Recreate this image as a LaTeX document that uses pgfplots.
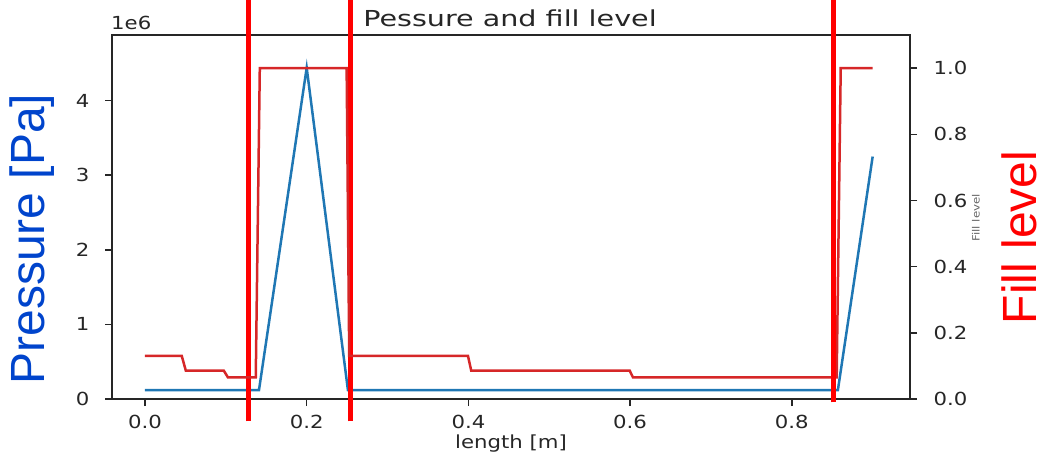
\documentclass[border=0pt]{standalone}
\usepackage{fontspec}
\setmainfont{DejaVu Sans}[FakeStretch=1.18]
\newfontfamily\titlefont{DejaVu Sans}[FakeStretch=1.3]
\newfontfamily\arialfont{Liberation Sans}
\usepackage{graphicx}
\usepackage{pgfplots}
\pgfplotsset{compat=1.18}
\definecolor{mblue}{HTML}{1F77B4}
\definecolor{mred}{HTML}{D62728}
\definecolor{annblue}{HTML}{0044CC}
\definecolor{txt}{HTML}{262626}

\pgfplotstableread{
x p
0      1.2e5
0.141  1.2e5
0.2    4.44e6
0.251  1.2e5
0.857  1.2e5
0.9    3.25e6
}\pressure

\pgfplotstableread{
x f
0      0.13
0.0455 0.13
0.0505 0.0857
0.0975 0.0857
0.1025 0.0655
0.137  0.0655
0.142  1.0
0.2494 1.0
0.2526 0.13
0.3995 0.13
0.4035 0.0857
0.5995 0.0857
0.6035 0.0655
0.8555 0.0655
0.8605 1.0
0.9    1.0
}\fill

\begin{document}
\begin{tikzpicture}[x=1pt,y=1pt]
\useasboundingbox (0,0) rectangle (1046,455);
\begin{axis}[
  at={(112pt,56pt)}, anchor=south west, scale only axis,
  width=798pt, height=364pt,
  xmin=-0.0408, xmax=0.9462, ymin=0, ymax=4.88e6,
  clip=false,
  axis line style={line width=1.5pt, color=txt},
  tick style={line width=1.5pt, color=txt},
  tick align=outside, major tick length=7pt,
  xtick pos=bottom, ytick pos=left,
  xtick={0,0.2,0.4,0.6,0.8}, xticklabels={0.0,0.2,0.4,0.6,0.8},
  ytick={0,1e6,2e6,3e6,4e6}, yticklabels={0,1,2,3,4},
  scaled y ticks=false, scaled x ticks=false,
  /pgf/number format/assume math mode=true,
  ticklabel style={font=\fontsize{18}{18}\selectfont, text=txt},
  yticklabel style={xshift=-12pt},
  xticklabel style={yshift=-6pt},
]
\addplot[mblue, line width=2.5pt] table[x=x,y=p] {\pressure};
\draw[red, line width=5pt] (axis cs:0.1286,-0.30e6) -- (axis cs:0.1286,5.5e6);
\draw[red, line width=5pt] (axis cs:0.2544,-0.30e6) -- (axis cs:0.2544,5.5e6);
\end{axis}
\begin{axis}[
  at={(112pt,56pt)}, anchor=south west, scale only axis,
  width=798pt, height=364pt,
  xmin=-0.0408, xmax=0.9462, ymin=0, ymax=1.1,
  clip=false,
  axis y line*=right, axis x line=none,
  axis line style={line width=1.5pt, color=txt},
  tick style={line width=1.5pt, color=txt},
  tick align=outside, major tick length=7pt,
  ytick={0,0.2,0.4,0.6,0.8,1.0}, yticklabels={0.0,0.2,0.4,0.6,0.8,1.0},
  /pgf/number format/assume math mode=true,
  ticklabel style={font=\fontsize{18}{18}\selectfont, text=txt},
  yticklabel style={xshift=13pt},
]
\addplot[mred, line width=2.5pt] table[x=x,y=f] {\fill};
\draw[red, line width=5pt] (axis cs:0.852,-0.01) -- (axis cs:0.852,1.25);
\end{axis}
% texts
\node[anchor=base, text=txt, font=\titlefont\fontsize{22}{22}\selectfont] at (510,428.5) {Pessure and fill level};
\node[anchor=base, text=txt, font=\fontsize{18}{18}\selectfont] at (511,7) {length [m]};
\node[anchor=base west, inner sep=0pt, text=txt, font=\fontsize{18}{18}\selectfont] at (111,425) {1e6};
\node[rotate=90, text=txt!70, font=\fontsize{10}{10}\selectfont] at (976,237) {Fill level};
\node[rotate=90, text=annblue, font=\arialfont\fontsize{48}{48}\selectfont] at (32,216) {Pressure [Pa]};
\node[rotate=90, text=red, font=\arialfont\fontsize{48}{48}\selectfont] at (1019,217.5) {Fill level};
\end{tikzpicture}
\end{document}
